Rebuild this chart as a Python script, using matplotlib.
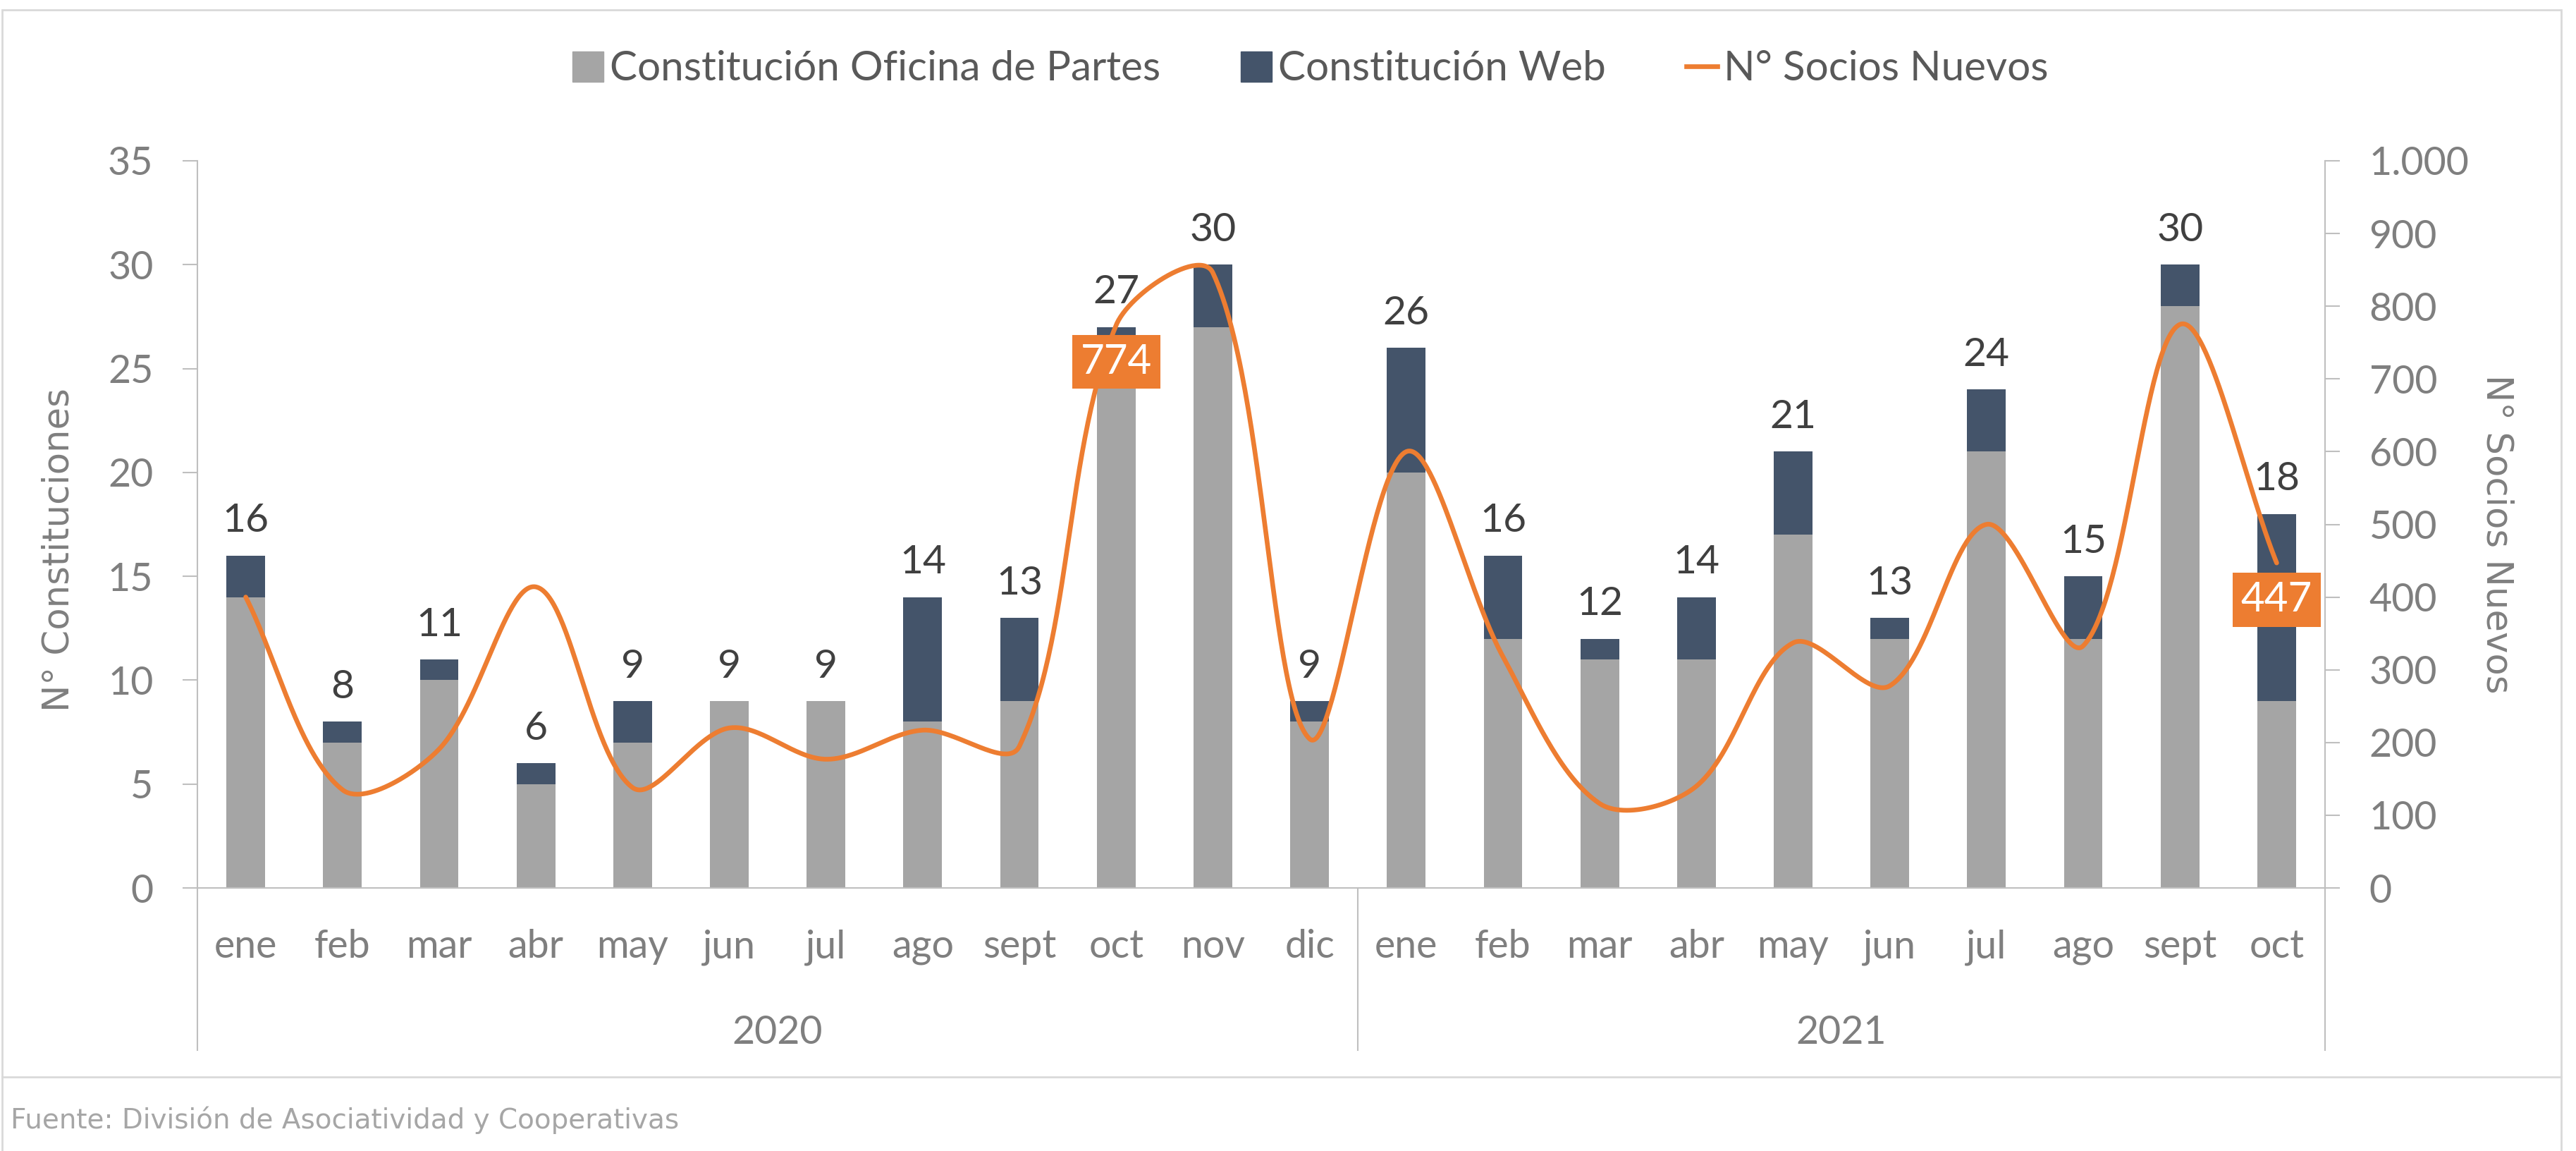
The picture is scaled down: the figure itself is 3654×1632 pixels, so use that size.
import numpy as np
import matplotlib
matplotlib.use("Agg")
import matplotlib.pyplot as plt
from matplotlib.patches import Patch, Rectangle
from matplotlib.lines import Line2D
from matplotlib.ticker import FuncFormatter, MultipleLocator

plt.rcParams['font.family'] = ['Lato', 'DejaVu Sans']

# ---- data ----
meses = ['ene', 'feb', 'mar', 'abr', 'may', 'jun', 'jul', 'ago', 'sept', 'oct', 'nov', 'dic',
         'ene', 'feb', 'mar', 'abr', 'may', 'jun', 'jul', 'ago', 'sept', 'oct']
anios = ['2020', '2021']
meses_por_anio = [12, 10]

oficina_partes = [14, 7, 10, 5, 7, 9, 9, 8, 9, 26, 27, 8,
                  20, 12, 11, 11, 17, 12, 21, 12, 28, 9]
web = [2, 1, 1, 1, 2, 0, 0, 6, 4, 1, 3, 1,
       6, 4, 1, 3, 4, 1, 3, 3, 2, 9]
socios_nuevos = [400, 135, 191, 414, 138, 220, 177, 217, 195, 774, 846, 205,
                 600, 318, 116, 140, 337, 278, 500, 333, 775, 447]
socios_destacados = [9, 21]   # indices with an orange value label

GRIS = '#A5A5A5'
AZUL = '#44546A'
NARANJA = '#ED7D31'
EJE = '#BFBFBF'
TEXTO = '#7F7F7F'

W, H = 3655, 1632
fig = plt.figure(figsize=(W / 100, H / 100), dpi=100)

# plot area in pixels (left, top, right, bottom)
px_l, px_t, px_r, px_b = 280, 228, 3298, 1259
ax = fig.add_axes([px_l / W, 1 - px_b / H, (px_r - px_l) / W, (px_b - px_t) / H])
ax2 = ax.twinx()

x = np.arange(len(meses))
oficina = np.array(oficina_partes)
webv = np.array(web)
total = oficina + webv

ax.bar(x, oficina, width=0.4, color=GRIS, zorder=2)
ax.bar(x, webv, width=0.4, bottom=oficina, color=AZUL, zorder=2)

for i, t in enumerate(total):
    ax.annotate(str(t), (x[i], t), xytext=(0, 24), textcoords='offset points',
                ha='center', va='baseline', fontsize=41, color='#404040')

ax.set_xlim(-0.5, len(meses) - 0.5)
ax.set_ylim(0, 35)
ax2.set_ylim(0, 1000)
ax.yaxis.set_major_locator(MultipleLocator(5))
ax2.yaxis.set_major_locator(MultipleLocator(100))
ax2.yaxis.set_major_formatter(FuncFormatter(lambda v, p: f"{v:,.0f}".replace(",", ".")))


def excel_smooth(xs, ys, trans, n=60):
    """ Smoothed line like Excel: bezier with length weighted tangents, in pixel space """
    pts = trans.transform(np.column_stack([xs, ys]))
    k = len(pts)
    ext = np.vstack([pts[0], pts, pts[-1]])
    d = np.linalg.norm(np.diff(ext, axis=0), axis=1)
    c_plus, c_minus = [], []
    for i in range(k):
        dp, dn = d[i], d[i + 1]
        tang = ext[i + 2] - ext[i]
        s = dp + dn if dp + dn > 0 else 1
        c_plus.append(pts[i] + tang * dn / s / 3)
        c_minus.append(pts[i] - tang * dp / s / 3)
    tt = np.linspace(0, 1, n)[:, None]
    curve = [pts[:1]]
    for i in range(k - 1):
        p0, p1, p2, p3 = pts[i], c_plus[i], c_minus[i + 1], pts[i + 1]
        seg = ((1 - tt) ** 3) * p0 + 3 * ((1 - tt) ** 2) * tt * p1 + 3 * (1 - tt) * tt ** 2 * p2 + tt ** 3 * p3
        curve.append(seg[1:])
    curve = np.vstack(curve)
    return trans.inverted().transform(curve)


curva = excel_smooth(x, socios_nuevos, ax2.transData)
ax2.plot(curva[:, 0], curva[:, 1], color=NARANJA, lw=4.8, solid_capstyle='round', zorder=3)

for i in socios_destacados:
    ax2.annotate(str(socios_nuevos[i]), (x[i], socios_nuevos[i]), xytext=(0, -18.5),
                 textcoords='offset points', ha='center', va='top', fontsize=42, color='white',
                 bbox=dict(boxstyle='square,pad=0.2', fc=NARANJA, ec='none'), zorder=5)

# spines and ticks
for sp in ['top', 'right']:
    ax.spines[sp].set_visible(False)
for sp in ['top', 'left', 'bottom']:
    ax2.spines[sp].set_visible(False)
for s in [ax.spines['left'], ax.spines['bottom'], ax2.spines['right']]:
    s.set_color(EJE)
    s.set_linewidth(1.5)

ax.tick_params(axis='y', length=15, width=1.5, color=EJE, pad=30, labelsize=40, labelcolor=TEXTO)
ax2.tick_params(axis='y', length=15, width=1.5, color=EJE, pad=30, labelsize=40, labelcolor=TEXTO)
ax.set_xticks(x)
ax.set_xticklabels(meses)
ax.tick_params(axis='x', length=0, pad=42, labelsize=40, labelcolor=TEXTO)

# multi-level category axis: group separators and year labels
xt = ax.get_xaxis_transform()
inicio = -0.5
for anio, n in zip(anios, meses_por_anio):
    ax.text(inicio + n / 2, -0.2144, anio, transform=xt, ha='center', va='baseline',
            fontsize=40, color=TEXTO)
    inicio += n
for xv in np.cumsum([0] + meses_por_anio) - 0.5:
    ax.add_line(Line2D([xv, xv], [0, -0.223], transform=xt, color=EJE, lw=1.5, clip_on=False))

ax.set_ylabel('N° Constituciones', fontsize=37, color=TEXTO, family=['DejaVu Sans'])
ax.yaxis.set_label_coords(-0.0567, 0.465)
ax2.set_ylabel('N° Socios Nuevos', fontsize=37, color=TEXTO, family=['DejaVu Sans'], rotation=270)
ax2.yaxis.set_label_coords(1.089, 0.487)

handles = [Patch(color=GRIS), Patch(color=AZUL), Line2D([], [], color=NARANJA, lw=4.8)]
etiquetas = ['Constitución Oficina de Partes', 'Constitución Web', 'N° Socios Nuevos']
fig.legend(handles, etiquetas, loc='center', bbox_to_anchor=(0.5086, 1 - 98 / H), ncol=3,
           frameon=False, fontsize=42, labelcolor='#595959', handlelength=0.75, handleheight=0.75,
           handletextpad=0.16, columnspacing=1.95)

# chart frame, separator and source
fig.add_artist(Rectangle((3 / W, -0.01), (3633 - 3) / W, 1.01 - 14 / H, transform=fig.transFigure,
                         fill=False, ec='#D9D9D9', lw=2))
fig.add_artist(Line2D([3 / W, 3633 / W], [1 - 1527 / H, 1 - 1527 / H], transform=fig.transFigure,
                      color='#D9D9D9', lw=2))
fig.text(15 / W, 1 - 1600 / H, 'Fuente: División de Asociatividad y Cooperativas', fontsize=28,
         color='#A6A6A6', family=['DejaVu Sans'], va='baseline')

fig.savefig('out.png', dpi=100, facecolor='white')
